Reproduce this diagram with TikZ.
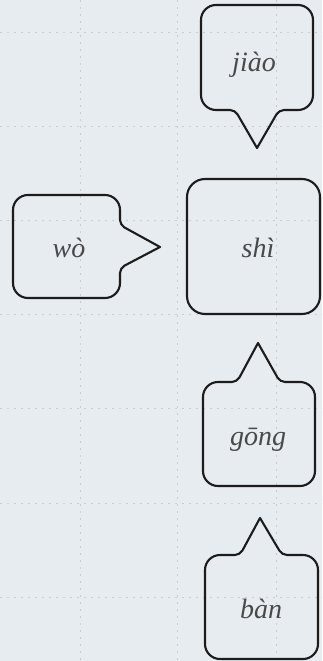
\documentclass[tikz,border=0pt]{standalone}
\usepackage{fontspec}
\setmainfont{Liberation Serif}
\definecolor{paper}{RGB}{231,236,240}
\definecolor{gridc}{RGB}{200,205,209}
\definecolor{ink}{RGB}{28,28,28}
\tikzset{
  bubble/.style={draw=ink, line width=2.1pt, line join=round},
  word/.style={text=ink!80, font=\fontsize{28}{31}\selectfont\itshape, anchor=base, inner sep=0pt},
  gridline/.style={draw=gridc, line width=0.7pt, dash pattern=on 2pt off 5pt}
}
\begin{document}
\begin{tikzpicture}[x=1pt,y=-1pt]
\fill[paper] (0,0) rectangle (322,661);
\useasboundingbox (0,0) rectangle (322,661);
% faint grid of the paper
\foreach \gx in {80,177,276} \draw[gridline] (\gx,0) -- (\gx,661);
\foreach \gy in {32,126,220,314,408,503,597} \draw[gridline] (0,\gy) -- (322,\gy);
% bubbles
% jiao, pointing down
\draw[bubble] (313,60) [rounded corners=15] -- (313,5) -- (201,5) -- (201,110) [rounded corners=5] -- (235,110) [sharp corners] -- (257,148) [rounded corners=5] -- (279,110) [rounded corners=15] -- (313,110) -- cycle;
% shi
\draw[bubble, rounded corners=18] (187,179) rectangle (320,314);
% wo, pointing right
\draw[bubble] (66,195) [rounded corners=15] -- (120,195) [rounded corners=5] -- (120,225) [sharp corners] -- (160,247) [rounded corners=5] -- (120,268) [rounded corners=15] -- (120,298) -- (13,298) -- (13,195) -- cycle;
% gong, pointing up
\draw[bubble] (203,430) [rounded corners=15] -- (203,382) [rounded corners=5] -- (237,382) [sharp corners] -- (258,343) [rounded corners=5] -- (280,382) [rounded corners=15] -- (315,382) -- (315,486) -- (203,486) -- cycle;
% ban, pointing up
\draw[bubble] (205,600) [rounded corners=15] -- (205,555) [rounded corners=5] -- (240,555) [sharp corners] -- (260,518) [rounded corners=5] -- (282,555) [rounded corners=15] -- (318,555) -- (318,659) -- (205,659) -- cycle;
% words
\node[word] (jiao) at (254,71) {jiào};
\node[word] (shi) at (258,257) {shì};
\node[word] (wo) at (69,257) {wò};
\node[word] (gong) at (258,445) {gōng};
\node[word] (ban) at (261,618) {bàn};
\end{tikzpicture}
\end{document}
